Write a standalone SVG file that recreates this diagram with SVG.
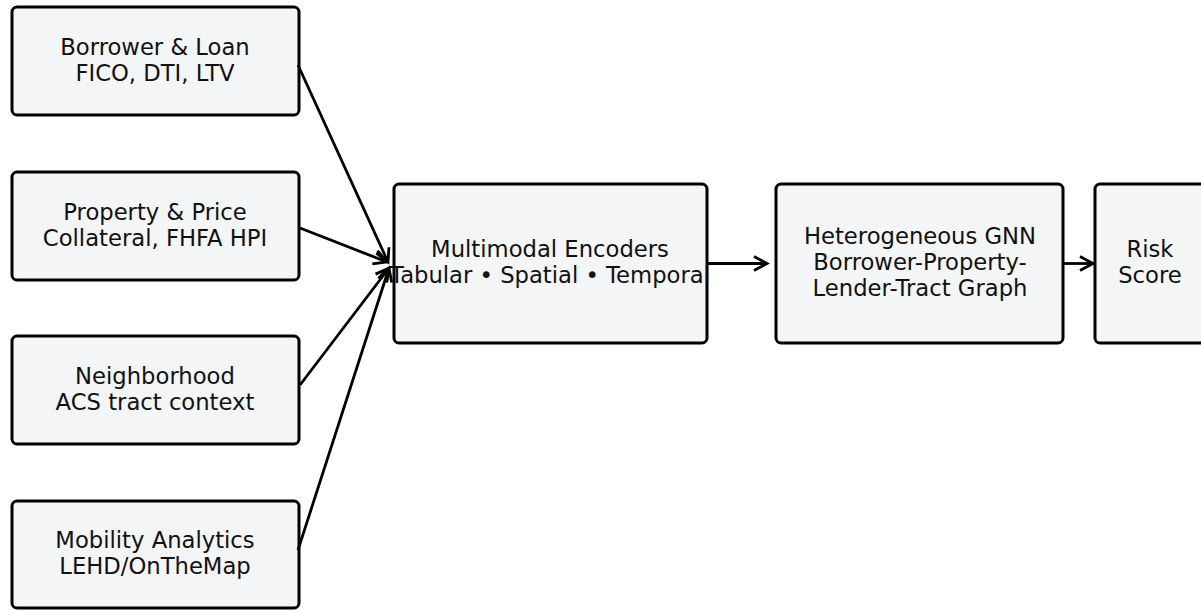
<svg xmlns="http://www.w3.org/2000/svg" width="1201" height="610" viewBox="0 0 1201 610">
<style>
.box{fill:#f4f5f7;stroke:#000;stroke-width:3}
.t{font-family:"DejaVu Sans",sans-serif;font-size:22.7px;fill:#111;text-anchor:middle;dominant-baseline:central}
.c{stroke:#000;stroke-width:2.8;fill:none}
</style>
<defs>
<marker id="ah" markerUnits="userSpaceOnUse" markerWidth="20" markerHeight="20" viewBox="-16 -10 20 20" refX="0" refY="0" orient="auto">
<path d="M-13,-7 L0,0 L-13,7" fill="none" stroke="#000" stroke-width="2.8"/>
</marker>
</defs>
<rect width="1201" height="610" fill="#fff"/>
<g id="n1"><rect class="box" x="12" y="7" width="287" height="108" rx="5"/><text class="t" x="155" y="47">Borrower &amp; Loan</text><text class="t" x="155" y="73">FICO, DTI, LTV</text></g>
<g id="n2"><rect class="box" x="12" y="172" width="287" height="108" rx="5"/><text class="t" x="155" y="212">Property &amp; Price</text><text class="t" x="155" y="238">Collateral, FHFA HPI</text></g>
<g id="n3"><rect class="box" x="12" y="336" width="287" height="108" rx="5"/><text class="t" x="155" y="376">Neighborhood</text><text class="t" x="155" y="402">ACS tract context</text></g>
<g id="n4"><rect class="box" x="12" y="501" width="287" height="107" rx="5"/><text class="t" x="155" y="540">Mobility Analytics</text><text class="t" x="155" y="566">LEHD/OnTheMap</text></g>
<g id="n5"><rect class="box" x="394" y="184" width="313" height="159" rx="5"/><text class="t" x="550" y="249">Multimodal Encoders</text><text class="t" x="550" y="275">Tabular • Spatial • Temporal</text></g>
<g id="n6"><rect class="box" x="776" y="184" width="287" height="159" rx="5"/><text class="t" x="920" y="236">Heterogeneous GNN</text><text class="t" x="920" y="262">Borrower-Property-</text><text class="t" x="920" y="288">Lender-Tract Graph</text></g>
<g id="n7"><rect class="box" x="1095" y="184" width="115" height="159" rx="5"/><text class="t" x="1150" y="249">Risk</text><text class="t" x="1150" y="275">Score</text></g>
<g id="connectors">
<line class="c" x1="298" y1="65" x2="388" y2="262" marker-end="url(#ah)"/>
<line class="c" x1="300" y1="228" x2="387" y2="262" marker-end="url(#ah)"/>
<line class="c" x1="300" y1="385" x2="389" y2="268" marker-end="url(#ah)"/>
<line class="c" x1="298" y1="550" x2="389" y2="268" marker-end="url(#ah)"/>
<line class="c" x1="707" y1="263.5" x2="767" y2="263.5" marker-end="url(#ah)"/>
<line class="c" x1="1063" y1="263.5" x2="1093" y2="263.5" marker-end="url(#ah)"/>
</g>
</svg>
